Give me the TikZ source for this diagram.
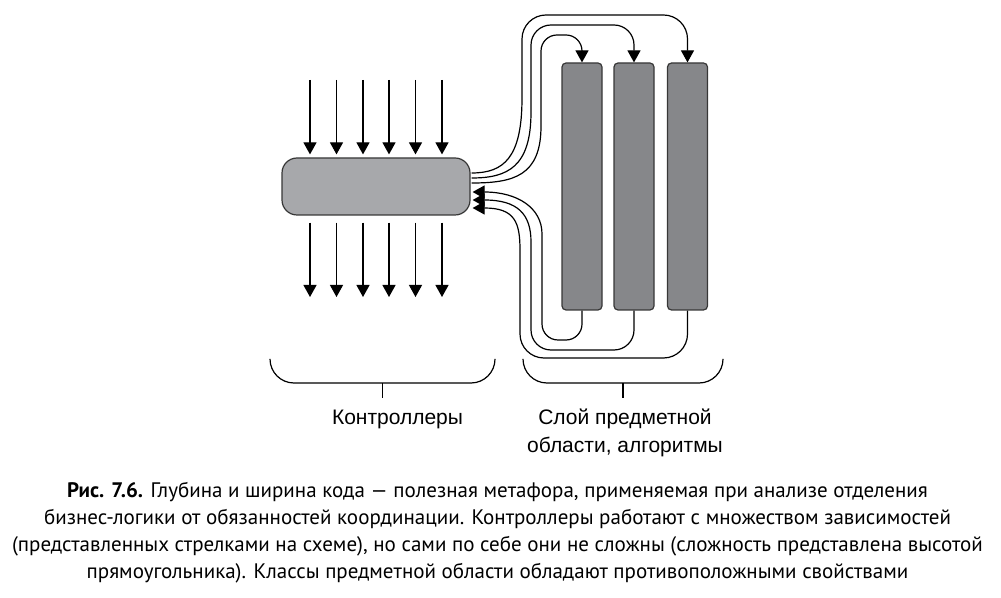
\documentclass[tikz,border=0pt]{standalone}
\usepackage{fontspec}
\setmainfont{PT Sans}
\newfontfamily\labelfont{Liberation Sans}
\usetikzlibrary{arrows.meta}
\definecolor{ctrlgray}{RGB}{167,168,171}
\definecolor{domgray}{RGB}{134,135,138}
\definecolor{edgegray}{RGB}{55,55,55}

\begin{document}
\begin{tikzpicture}[x=0.5pt, y=-0.5pt, > = {Triangle[length=6pt,width=6.5pt]},
    dep/.style = {line width=0.6pt, ->},
    ctrlbox/.style = {draw=edgegray, line width=0.6pt, fill=ctrlgray, rounded corners=7.5pt, minimum width=94pt, minimum height=28.5pt, inner sep=0pt},
    dombox/.style = {draw=edgegray, line width=0.6pt, fill=domgray, rounded corners=2pt, minimum width=20pt, minimum height=123.5pt, inner sep=0pt},
    bracket/.style = {line width=0.6pt, rounded corners=12pt},
    lbl/.style = {font=\labelfont\fontsize{10.5pt}{13.5pt}\selectfont, align=center, anchor=base}]
    \useasboundingbox (0,0) rectangle (1001,598);

    % boxes
    \node[ctrlbox] (ctrl) at (376,186.5) {};
    \node[dombox] (dom1) at (582,186.5) {};
    \node[dombox] (dom2) at (634,186.5) {};
    \node[dombox] (dom3) at (687.5,186.5) {};

    % dependencies of the controller
    \foreach \i/\x in {1/310,2/336.5,3/363,4/389,5/415.5,6/442} {
        \coordinate (in\i) at (\x,80);
        \coordinate (out\i) at (\x,297);
        \draw[dep, shorten >=1.5pt] (in\i) -- (in\i |- ctrl.north);
        \draw[dep, shorten <=3.5pt] (out\i |- ctrl.south) -- (out\i);
    }

    % calls into the domain layer
    \draw[dep] ([shift={(1,-13.5)}]ctrl.east) .. controls +(32,0) and +(0,60) .. (522,98)
        [rounded corners=12pt] -- (522,15) -- (dom3.north |- 0,15) -- (dom3.north);
    \draw[dep] ([shift={(1,-8.5)}]ctrl.east) .. controls +(36,0) and +(0,55) .. (531,112)
        [rounded corners=10pt] -- (531,25) -- (dom2.north |- 0,25) -- (dom2.north);
    \draw[dep] ([shift={(1,-3.5)}]ctrl.east) .. controls +(42,0) and +(0,50) .. (541,126)
        [rounded corners=8pt] -- (541,35) -- (dom1.north |- 0,35) -- (dom1.north);

    % results back to the controller
    \draw[dep] (dom1.south) [rounded corners=8pt] -- (dom1.south |- 0,340) -- (542,340) -- (542,250)
        [sharp corners] .. controls +(0,-42) and +(45,0) .. ([shift={(2,5.5)}]ctrl.east);
    \draw[dep] (dom2.south) [rounded corners=10pt] -- (dom2.south |- 0,350) -- (531,350) -- (531,262)
        [sharp corners] .. controls +(0,-48) and +(45,0) .. ([shift={(2,13.5)}]ctrl.east);
    \draw[dep] (dom3.south) [rounded corners=12pt] -- (dom3.south |- 0,358) -- (520,358) -- (520,274)
        [sharp corners] .. controls +(0,-52) and +(42,0) .. ([shift={(2,21.5)}]ctrl.east);

    % brackets
    \draw[bracket] (270,360) -- (270,383) -- (495,383) -- (495,360);
    \draw[line width=0.6pt] (382.5,383) -- (382.5,398);
    \draw[bracket] (523,360) -- (523,383) -- (723,383) -- (723,360);
    \draw[line width=0.6pt] (623,383) -- (623,398);

    \node[lbl] (ctrllbl) at (397.5,425) {Контроллеры};
    \node[lbl] (domlbl) at (625,452) {Слой предметной\\области, алгоритмы};

    % caption
    \node[font=\fontsize{10.5pt}{13.5pt}\selectfont, align=center, anchor=base] (caption) at (497.5,578)
        {\textbf{Рис. 7.6.} Глубина и ширина кода — полезная метафора, применяемая при анализе отделения\\
        бизнес-логики от обязанностей координации. Контроллеры работают с множеством зависимостей\\
        (представленных стрелками на схеме), но сами по себе они не сложны (сложность представлена высотой\\
        прямоугольника). Классы предметной области обладают противоположными свойствами};
\end{tikzpicture}
\end{document}
